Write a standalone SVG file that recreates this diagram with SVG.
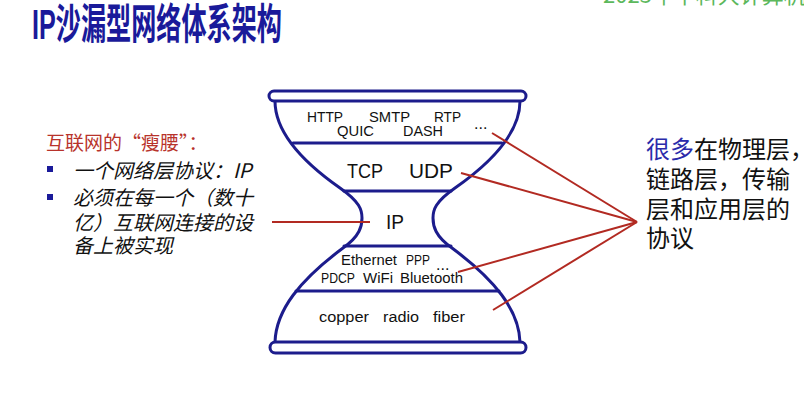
<svg xmlns="http://www.w3.org/2000/svg" width="804" height="411" viewBox="0 0 804 411">
<style>
.hg{fill:none;stroke:#1c1c8c;stroke-width:3;stroke-linecap:round}
.rim{fill:#fff;stroke:#1c1c8c;stroke-width:3}
.lt{font-family:"Liberation Sans","Noto Sans",sans-serif;fill:#111}
.cjk{font-family:"Noto Sans CJK SC",sans-serif}
.red{stroke:#b22a22;stroke-width:2;fill:none}
</style>
<rect width="804" height="411" fill="#fff"/>
<text x="603" y="3" font-size="22" fill="#5cb85c" class="cjk">2023年中科大计算机网络</text>
<g id="title">
<text x="32" y="25" transform="scale(1,1.56)" font-size="27" font-weight="bold" fill="#1a1a9a" font-family="Liberation Sans,Noto Sans CJK SC,sans-serif" textLength="250" lengthAdjust="spacingAndGlyphs">IP沙漏型网络体系架构</text>
</g>
<g id="hourglass">
<path class="hg" d="M275,101 C275,130 300,160 340,188 C360,202 362,210 362,218 C362,226 360,236 343,248 C300,280 276,310 275,342"/>
<path class="hg" d="M520,101 C520,130 495,160 455,188 C435,202 433,210 433,218 C433,226 435,236 452,248 C495,280 519,310 520,342"/>
<line class="hg" x1="293" y1="143" x2="502" y2="143"/>
<line class="hg" x1="344" y1="191" x2="451" y2="191"/>
<line class="hg" x1="344" y1="246" x2="451" y2="246"/>
<line class="hg" x1="296" y1="291" x2="499" y2="291"/>
<rect class="rim" x="269" y="91" width="257" height="10" rx="5"/>
<rect class="rim" x="270" y="342" width="256" height="11" rx="5.5"/>
</g>
<g id="app-layer" class="lt" font-size="15">
<text x="307" y="122" textLength="36" lengthAdjust="spacingAndGlyphs">HTTP</text>
<text x="369" y="122" textLength="41" lengthAdjust="spacingAndGlyphs">SMTP</text>
<text x="434" y="122" textLength="27" lengthAdjust="spacingAndGlyphs">RTP</text>
<text x="337" y="136" textLength="37" lengthAdjust="spacingAndGlyphs">QUIC</text>
<text x="403" y="136" textLength="40" lengthAdjust="spacingAndGlyphs">DASH</text>
<text x="474" y="129" font-size="16">...</text>
</g>
<g id="transport-layer" class="lt" font-size="21">
<text x="347" y="178" textLength="36" lengthAdjust="spacingAndGlyphs">TCP</text>
<text x="409" y="178" textLength="44" lengthAdjust="spacingAndGlyphs">UDP</text>
</g>
<g id="network-layer" class="lt">
<text x="386" y="229" font-size="21" textLength="18" lengthAdjust="spacingAndGlyphs">IP</text>
</g>
<g id="link-layer" class="lt" font-size="14.5">
<text x="341" y="265" textLength="56" lengthAdjust="spacingAndGlyphs">Ethernet</text>
<text x="406" y="265" textLength="24" lengthAdjust="spacingAndGlyphs">PPP</text>
<text x="436" y="270" font-size="16">...</text>
<text x="321" y="283" textLength="34" lengthAdjust="spacingAndGlyphs">PDCP</text>
<text x="363" y="283" textLength="30" lengthAdjust="spacingAndGlyphs">WiFi</text>
<text x="400" y="283" textLength="63" lengthAdjust="spacingAndGlyphs">Bluetooth</text>
</g>
<g id="physical-layer" class="lt" font-size="15.5">
<text x="319" y="322" textLength="50" lengthAdjust="spacingAndGlyphs">copper</text>
<text x="383" y="322" textLength="36" lengthAdjust="spacingAndGlyphs">radio</text>
<text x="433" y="322" textLength="32" lengthAdjust="spacingAndGlyphs">fiber</text>
</g>
<g id="left-note" class="cjk">
<text x="46" y="150" font-size="19" fill="#b8332b">互联网的“瘦腰”：</text>
<rect x="47" y="166" width="6" height="6" fill="#1a1a9a"/>
<rect x="47" y="194" width="6" height="6" fill="#1a1a9a"/>
<g font-size="20" font-style="italic" fill="#111">
<text x="73" y="178">一个网络层协议：IP</text>
<text x="73" y="205">必须在每一个（数十</text>
<text x="73" y="230">亿）互联网连接的设</text>
<text x="73" y="253">备上被实现</text>
</g>
</g>
<g id="right-note" class="cjk" font-size="24" fill="#111">
<text x="646" y="158"><tspan fill="#2a2aaa">很多</tspan>在物理层，</text>
<text x="646" y="188">链路层，传输</text>
<text x="646" y="218">层和应用层的</text>
<text x="646" y="247">协议</text>
</g>
<g id="connectors">
<line class="red" x1="272" y1="222" x2="370" y2="222"/>
<line class="red" x1="492" y1="133" x2="637" y2="222"/>
<line class="red" x1="461" y1="173" x2="637" y2="222"/>
<line class="red" x1="458" y1="272" x2="637" y2="222"/>
<line class="red" x1="493" y1="310" x2="637" y2="222"/>
</g>
</svg>
